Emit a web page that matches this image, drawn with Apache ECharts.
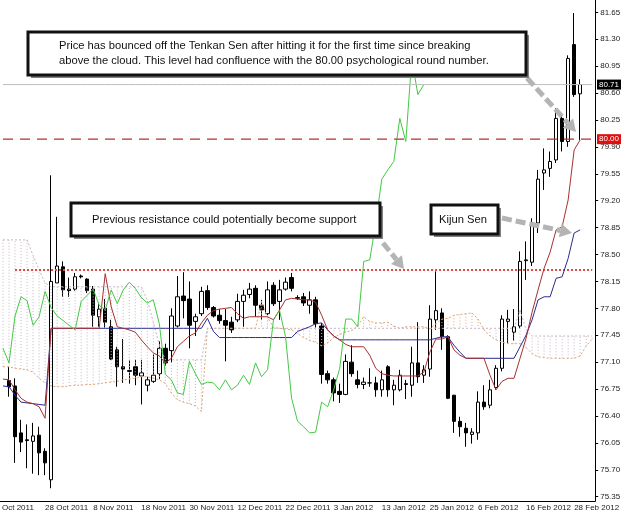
<!DOCTYPE html>
<html>
<head>
<meta charset="utf-8">
<script src="https://cdn.jsdelivr.net/npm/echarts@6.0.0/dist/echarts.min.js"></script>
<style>
  html, body { margin: 0; padding: 0; background: #fff; }
  #chart { width: 625px; height: 512px; }
</style>
</head>
<body>
<div id="chart"></div>
<script>
// daily bars, first visible bar = index 0, 28 Oct 2011 = index 6, last = 29 Feb 2012
var barOpen = [
  76.86, 76.79, 76.18, 76.09, 76.07, 76.15, 75.94, 75.57, 78.13, 78.34,
  78.05, 78.05, 78.22, 78.18, 78.05, 77.69, 77.80, 77.56, 77.26, 77.04,
  76.99, 77.04, 76.92, 76.80, 76.85, 76.95, 77.28, 77.25, 77.57, 77.96,
  77.92, 77.63, 77.73, 78.03, 77.81, 77.71, 77.64, 77.62, 77.65, 77.89,
  77.98, 78.06, 77.84, 77.73, 78.10, 77.89, 78.05, 78.20, 77.93, 77.95,
  77.84, 77.91, 77.57, 76.95, 76.87, 76.72, 76.68, 77.10, 76.87, 76.81,
  76.83, 76.83, 76.74, 77.04, 76.74, 76.74, 76.82, 76.80, 77.09, 76.93,
  77.01, 77.65, 77.74, 77.43, 76.67, 76.33, 76.24, 76.16, 76.18, 76.58,
  76.54, 76.77, 77.02, 77.63, 77.49, 77.57, 78.42, 78.40, 78.91, 79.56,
  79.62, 79.73, 80.27, 79.97, 81.23, 80.59
];
var barHigh = [
  77.04, 76.89, 76.35, 76.29, 76.31, 76.26, 75.98, 79.53, 78.99, 78.41,
  78.20, 78.26, 78.24, 78.19, 78.09, 77.87, 77.92, 77.65, 77.30, 77.40,
  77.13, 77.13, 77.13, 76.91, 77.20, 77.37, 77.34, 77.80, 78.22, 78.27,
  78.15, 77.73, 78.08, 78.10, 77.83, 77.79, 77.79, 77.69, 77.99, 78.04,
  78.13, 78.10, 77.91, 78.15, 78.14, 78.17, 78.20, 78.26, 77.97, 78.00,
  78.02, 77.95, 77.61, 76.99, 76.90, 76.82, 77.20, 77.32, 76.99, 76.90,
  77.02, 76.91, 76.99, 77.06, 76.87, 77.00, 76.87, 77.30, 77.62, 77.06,
  77.84, 78.28, 77.80, 77.45, 76.67, 76.39, 76.31, 76.24, 76.72, 76.80,
  76.87, 77.06, 77.71, 77.78, 77.79, 78.54, 78.67, 78.97, 79.60, 79.88,
  79.84, 80.40, 80.34, 81.09, 81.64, 80.78
];
var barLow = [
  76.65, 75.79, 75.93, 75.72, 75.65, 75.63, 75.63, 75.46, 78.13, 77.95,
  77.95, 78.03, 78.19, 78.00, 77.56, 77.56, 77.55, 77.13, 76.78, 76.83,
  76.82, 76.80, 76.55, 76.72, 76.83, 76.88, 77.05, 77.09, 77.55, 77.67,
  77.28, 77.44, 77.70, 77.78, 77.68, 77.60, 77.11, 77.48, 77.62, 77.56,
  77.93, 77.69, 77.65, 77.71, 77.83, 77.65, 78.03, 78.02, 77.91, 77.83,
  77.73, 77.55, 76.82, 76.82, 76.59, 76.57, 76.67, 76.91, 76.76, 76.75,
  76.78, 76.65, 76.65, 76.65, 76.54, 76.72, 76.62, 76.65, 76.83, 76.83,
  76.91, 77.52, 77.26, 76.62, 76.18, 76.13, 76.00, 76.04, 76.09, 76.48,
  76.50, 76.74, 76.98, 77.35, 77.38, 77.54, 78.17, 78.35, 78.78, 79.34,
  79.51, 79.69, 79.84, 79.90, 80.55, 79.99
];
var barClose = [
  76.78, 76.13, 76.06, 76.08, 76.14, 75.92, 75.79, 78.15, 78.35, 78.04,
  78.03, 78.21, 78.21, 78.03, 77.71, 77.79, 77.62, 77.14, 77.04, 77.01,
  76.98, 76.93, 76.96, 76.87, 76.93, 77.28, 77.09, 77.70, 77.95, 77.90,
  77.58, 77.69, 78.02, 77.81, 77.70, 77.64, 77.58, 77.52, 77.89, 77.97,
  78.05, 77.84, 77.78, 78.04, 77.86, 78.04, 78.14, 78.06, 77.94, 77.87,
  77.91, 77.60, 76.94, 76.87, 76.70, 76.68, 77.11, 76.95, 76.81, 76.84,
  76.83, 76.74, 76.87, 76.74, 76.80, 76.93, 76.81, 77.09, 76.91, 77.00,
  77.66, 77.77, 77.43, 76.63, 76.33, 76.26, 76.18, 76.19, 76.58, 76.52,
  76.74, 77.02, 77.66, 77.66, 77.56, 78.41, 78.43, 78.91, 79.48, 79.60,
  79.71, 80.27, 79.97, 81.05, 80.58, 80.71
];

// indicator lines, from the bar before index 0 (slot -1) to the last bar
var tenkan = [
  76.88, 76.87, 76.74, 76.63, 76.58, 76.56, 76.52, 76.37,
  77.54, 77.54, 77.54, 77.54, 77.54, 77.54, 77.54, 77.54, 77.54,
  78.25, 77.82, 77.56, 77.54, 77.52, 77.49, 77.39, 77.30, 77.22, 77.18,
  77.09, 77.15, 77.30, 77.37, 77.44, 77.48, 77.61,
  77.71, 77.77, 77.79, 77.80, 77.81, 77.73, 77.67, 77.69, 77.69, 77.69,
  77.69, 77.65, 77.78, 77.91, 77.93, 77.92, 77.91,
  77.91, 77.88, 77.71, 77.52, 77.44, 77.39, 77.33, 77.30, 77.30, 77.30,
  77.19, 77.02, 76.95, 76.93, 76.92, 76.92,
  76.92, 76.92, 76.92, 76.97, 77.23, 77.40, 77.40, 77.43, 77.26, 77.19,
  77.15, 77.15, 77.15, 77.15,
  76.93, 76.74, 76.85, 76.89, 76.89, 77.15, 77.41, 77.75, 78.04, 78.32,
  78.53, 78.82, 78.86, 79.21, 79.86, 79.99
];
var kijun = [
  76.79, 76.78, 76.67, 76.58, 76.57, 76.56, 76.55, 76.54,
  77.54, 77.54, 77.54, 77.54, 77.54, 77.54, 77.54, 77.54, 77.54, 77.54,
  77.54, 77.54, 77.54, 77.54, 77.54, 77.54, 77.54, 77.54, 77.54, 77.54,
  77.54, 77.54, 77.54, 77.54, 77.54, 77.54,
  77.67, 77.50,
  77.42, 77.42, 77.42, 77.42, 77.42, 77.42, 77.42, 77.42, 77.42, 77.42,
  77.42, 77.42, 77.42,
  77.50, 77.53, 77.56, 77.60, 77.61, 77.52, 77.44, 77.39,
  77.39, 77.39, 77.39, 77.39, 77.39, 77.39, 77.39, 77.39, 77.39, 77.39,
  77.39, 77.39, 77.39, 77.39, 77.39,
  77.41, 77.43, 77.43, 77.32, 77.23,
  77.15, 77.15, 77.15, 77.15, 77.15, 77.15, 77.15, 77.15, 77.15,
  77.30, 77.45, 77.65, 77.91, 77.95, 77.95, 78.19, 78.21, 78.45, 78.78, 78.82
];
// cloud edges, slot -1 to two bars past the last bar
var senkouA = [
  77.04, 77.04, 77.02, 77.01, 77.00, 76.97, 76.89, 76.83, 76.79, 76.78,
  76.78, 76.79, 76.80, 76.80, 76.81, 76.81, 76.82, 76.83, 76.84, 76.85,
  76.87, 76.88, 76.89, 76.91, 76.91, 76.89, 76.87,
  76.82, 76.70, 76.61, 76.58, 76.56, 76.53, 76.46,
  77.54, 77.54, 77.54, 77.54, 77.54, 77.54, 77.54, 77.54, 77.54,
  77.89, 77.68, 77.55, 77.54, 77.53, 77.52, 77.47, 77.42, 77.38, 77.36,
  77.31, 77.35, 77.42, 77.46, 77.49, 77.51,
  77.57, 77.69, 77.63, 77.61, 77.61, 77.62, 77.57, 77.54, 77.56, 77.56,
  77.56, 77.56, 77.53, 77.60, 77.66, 77.67, 77.71, 77.72, 77.73, 77.74,
  77.66, 77.52, 77.44, 77.39, 77.36, 77.34, 77.34, 77.34, 77.29, 77.21,
  77.17, 77.16, 77.15, 77.15, 77.15, 77.15, 77.15, 77.18, 77.31, 77.40
];
var senkouB = [
  78.69, 78.69, 78.69, 78.69, 78.69, 78.49, 78.30, 78.13,
  78.08, 78.08, 78.08, 78.08, 78.08, 78.08, 78.08, 78.08, 78.08, 78.08,
  78.08, 78.08, 78.08, 78.08, 78.08, 78.08,
  77.91, 77.62, 77.32,
  77.13, 77.13, 77.13, 77.13, 77.13, 77.13, 77.13,
  77.54, 77.54, 77.54, 77.54, 77.54, 77.54, 77.54, 77.54, 77.54, 77.54,
  77.54, 77.54, 77.54, 77.54, 77.54, 77.54, 77.54, 77.54, 77.54, 77.54,
  77.54, 77.54, 77.54, 77.54, 77.54, 77.54, 77.54, 77.54, 77.54, 77.54,
  77.54, 77.54, 77.54, 77.54, 77.54, 77.54, 77.54, 77.54, 77.54, 77.54,
  77.54, 77.54, 77.54, 77.54, 77.54, 77.54, 77.54, 77.54, 77.54, 77.54,
  77.54, 77.54,
  77.78, 77.52,
  77.44, 77.44, 77.44, 77.44, 77.44, 77.44, 77.44, 77.44, 77.44, 77.44, 77.44
];

var dateTicks = ['28 Oct 2011', '8 Nov 2011', '18 Nov 2011', '30 Nov 2011', '12 Dec 2011',
  '22 Dec 2011', '3 Jan 2012', '13 Jan 2012', '25 Jan 2012', '6 Feb 2012',
  '16 Feb 2012', '28 Feb 2012'];
var firstTickBar = 6, tickStep = 8;
var priceTicks = [75.35, 75.70, 76.05, 76.40, 76.75, 77.10, 77.45, 77.80, 78.15, 78.50,
  78.85, 79.20, 79.55, 79.90, 80.25, 80.60, 80.95, 81.30, 81.65];
var bidPrice = 80.71, roundLevel = 80.00, oldResistance = 78.30;

// slots: one before bar 0, the bars, two empty after
var nSlots = barClose.length + 3;
var cats = [];
for (var c = 0; c < nSlots; c++) {
  var j = c - 1, lab = '';
  if (j >= firstTickBar && (j - firstTickBar) % tickStep === 0) lab = dateTicks[(j - firstTickBar) / tickStep] || '';
  cats.push(lab);
}
var candles = [['-', '-', '-', '-']];
for (var i = 0; i < barClose.length; i++) candles.push([barOpen[i], barClose[i], barLow[i], barHigh[i]]);
candles.push(['-', '-', '-', '-'], ['-', '-', '-', '-']);

function pad(arr) { var out = arr.slice(); while (out.length < nSlots) out.push('-'); return out; }
// chikou span = close plotted 26 bars back
var chikou = pad(barClose.slice(25));
var hatch = [];
for (var k = 0; k < nSlots; k++) hatch.push([k, senkouA[k], senkouB[k]]);

var chart = echarts.init(document.getElementById('chart'));
var FONT = 'Liberation Sans';

function arrow(x1, y1, x2, y2) {
  var dx = x2 - x1, dy = y2 - y1, len = Math.sqrt(dx * dx + dy * dy);
  var ux = dx / len, uy = dy / len, hl = 12, hw = 7;
  var bx = x2 - ux * hl, by = y2 - uy * hl;
  return [
    {type: 'line', z: 50, shape: {x1: x1, y1: y1, x2: bx, y2: by},
     style: {stroke: '#b4b4b4', lineWidth: 5, lineDash: [10, 4]}},
    {type: 'polygon', z: 50, shape: {points: [[x2, y2], [bx - uy * hw, by + ux * hw], [bx + uy * hw, by - ux * hw]]},
     style: {fill: '#b4b4b4'}}
  ];
}
function note(x, y, w, h, text, tx) {
  return [
    {type: 'rect', z: 60, shape: {x: x + 3, y: y + 3, width: w, height: h}, style: {fill: '#808080'}},
    {type: 'rect', z: 61, shape: {x: x, y: y, width: w, height: h}, style: {fill: '#fff', stroke: '#111', lineWidth: 3}},
    {type: 'text', z: 62, x: tx, y: y + h / 2, style: {text: text, font: '11.2px "Liberation Sans"', fill: '#111',
      verticalAlign: 'middle', lineHeight: 15}}
  ];
}
// horizontal level drawn as a full-width line series
function levelLine(value, color, dash, width) {
  var d = [];
  for (var q = 0; q < nSlots; q++) d.push(value);
  return {type: 'line', data: d, z: 6, symbol: 'none', silent: true,
    lineStyle: {color: color, type: dash, width: width}};
}

var graphics = [].concat(
  arrow(527, 78, 576, 132),
  arrow(383, 243, 404, 269),
  arrow(502, 218, 572, 233),
  note(28, 32, 498, 43, 'Price has bounced off the Tenkan Sen after hitting it for the first time since breaking\nabove the cloud. This level had confluence with the 80.00 psychological round number.', 59),
  note(71, 203, 309, 33, 'Previous resistance could potentially become support', 92),
  note(431, 205, 67, 29, 'Kijun Sen', 439),
  [{type: 'text', z: 10, x: 2, y: 504, style: {text: 'Oct 2011', font: '8px "Liberation Sans"', fill: '#222'}}]
);

chart.setOption({
  animation: false,
  backgroundColor: '#fff',
  grid: {left: -4.08, right: 29.8, top: 0, bottom: 11},
  xAxis: {
    type: 'category', data: cats, boundaryGap: true,
    axisLine: {lineStyle: {color: '#000', width: 1}},
    axisTick: {alignWithLabel: true, length: 4, lineStyle: {color: '#000'},
      interval: function (idx, v) { return v !== ''; }},
    axisLabel: {interval: function (idx, v) { return v !== ''; }, align: 'left', margin: 3,
      fontSize: 8, fontFamily: FONT, color: '#222'},
    splitLine: {show: false}
  },
  yAxis: {
    type: 'value', position: 'right', min: 75.294, max: 81.81,
    splitLine: {show: false},
    axisLine: {show: true, lineStyle: {color: '#000'}},
    axisTick: {show: true, length: 3, customValues: priceTicks, lineStyle: {color: '#000'}},
    axisLabel: {customValues: priceTicks, margin: 5, fontSize: 8, fontFamily: FONT, color: '#222',
      formatter: function (v) { return v.toFixed(2); }}
  },
  series: [
    {
      type: 'candlestick', data: candles, barWidth: 4, z: 2,
      itemStyle: {color: '#fff', color0: '#000', borderColor: '#000', borderColor0: '#000', borderWidth: 1},
      markLine: {
        silent: true, symbol: ['none', 'none'],
        lineStyle: {color: '#e04848', type: [2, 2], width: 2},
        label: {show: false},
        data: [[{coord: [2, oldResistance]}, {coord: [nSlots - 1, oldResistance]}]]
      }
    },
    {
      type: 'custom', z: 3, data: hatch, encode: {x: 0, y: [1, 2]},
      renderItem: function (params, api) {
        var a = api.value(1), b = api.value(2);
        var p1 = api.coord([api.value(0), a]), p2 = api.coord([api.value(0), b]);
        return {type: 'line', shape: {x1: p1[0], y1: p1[1], x2: p2[0], y2: p2[1]},
          style: {stroke: a > b ? '#dca57a' : '#c4b6c4', lineWidth: 1, lineDash: [1, 2]}};
      }
    },
    {type: 'line', data: senkouA, z: 4, symbol: 'none', lineStyle: {color: '#dca57a', width: 1, type: [2, 2]}},
    {type: 'line', data: senkouB, z: 4, symbol: 'none', lineStyle: {color: '#c4b6c4', width: 1, type: [2, 2]}},
    {type: 'line', data: pad(kijun), z: 5, symbol: 'none', lineStyle: {color: '#2b2b8f', width: 1}},
    {type: 'line', data: pad(tenkan), z: 5, symbol: 'none', lineStyle: {color: '#a83030', width: 1}},
    {type: 'line', data: chikou, z: 5, symbol: 'none', lineStyle: {color: '#45c845', width: 1}},
    levelLine(bidPrice, '#bdbdbd', 'solid', 1),
    levelLine(roundLevel, '#b83030', [10, 7], 1.2)
  ]
});

// price tags on the right axis, placed through the axis scale
function priceTag(value, bg) {
  var y = chart.convertToPixel({yAxisIndex: 0}, value);
  return {type: 'text', z: 70, x: 597, y: y,
    style: {text: value.toFixed(2), font: '8px "Liberation Sans"', fill: '#fff', backgroundColor: bg,
      padding: [1, 2, 1, 2], verticalAlign: 'middle', align: 'left'}};
}
chart.setOption({graphic: graphics.concat([priceTag(bidPrice, '#000'), priceTag(roundLevel, '#e01010')])});
</script>
</body>
</html>
